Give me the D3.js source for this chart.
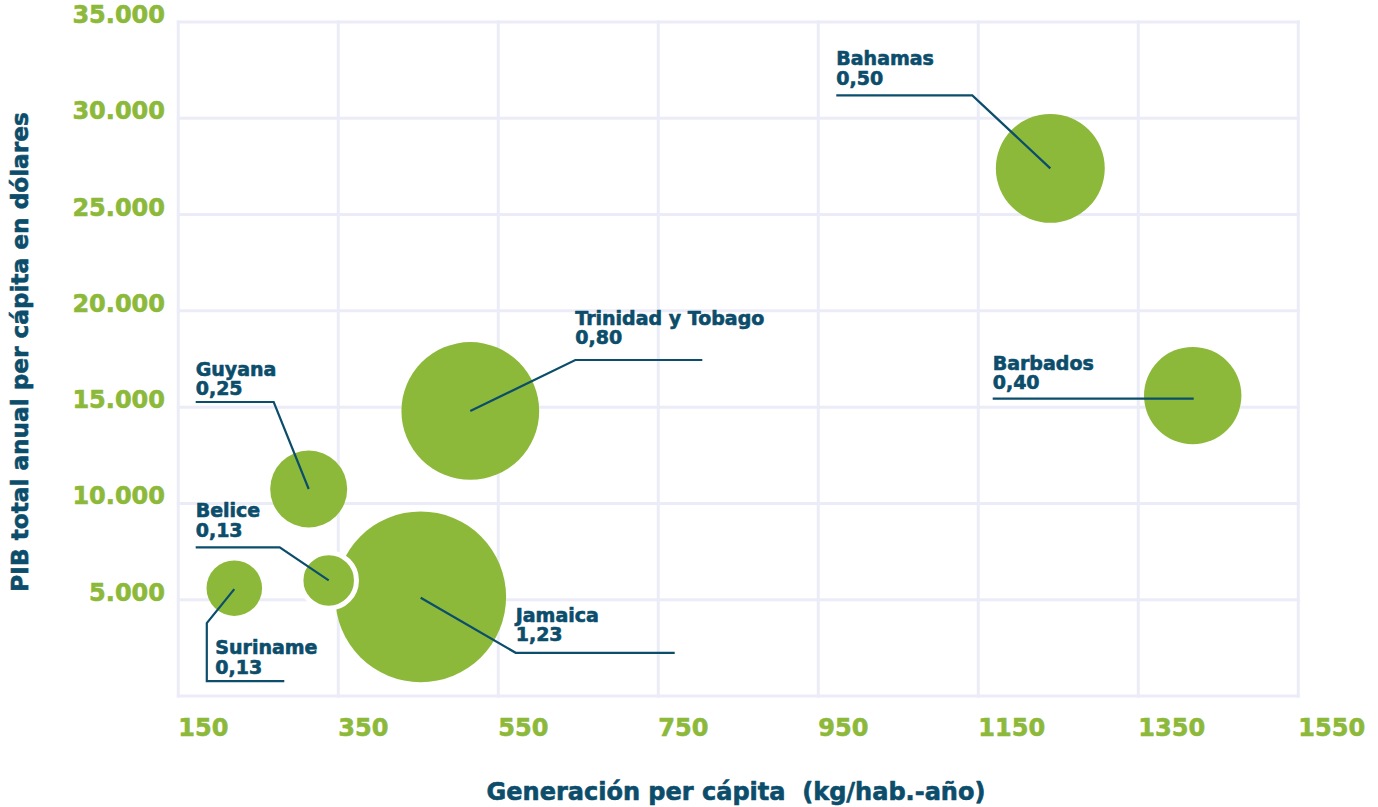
<!DOCTYPE html>
<html lang="es">
<head>
<meta charset="utf-8">
<title>Generación per cápita vs PIB per cápita</title>
<script src="https://cdn.jsdelivr.net/npm/d3@7/dist/d3.min.js"></script>
<style>
  html, body { margin: 0; padding: 0; background: #ffffff; }
  svg { display: block; }
  text { font-family: "DejaVu Sans", sans-serif; font-weight: bold; stroke-width: 0.6px; stroke-linejoin: round; }
</style>
</head>
<body>
<svg id="chart" width="1378" height="807"></svg>
<script>
// Países y valores de cada burbuja
const countries  = ["Bahamas", "Barbados", "Trinidad y Tobago", "Jamaica", "Guyana", "Belice", "Suriname"];
const generation = [1240, 1418, 515, 453, 313, 338, 220];          // kg/hab.-año
const gdp        = [27400, 15600, 14800, 5150, 10750, 6000, 5600]; // dólares per cápita
const values     = [0.50, 0.40, 0.80, 1.23, 0.25, 0.13, 0.13];     // tamaño de la burbuja

// Marcas de los ejes
const xTicks = [150, 350, 550, 750, 950, 1150, 1350, 1550];
const yTicks = [0, 5000, 10000, 15000, 20000, 25000, 30000, 35000];
const yTickLabels = ["", "5.000", "10.000", "15.000", "20.000", "25.000", "30.000", "35.000"];

// Trazado de las líneas guía de cada etiqueta (desplazamientos en px desde el centro)
const callouts = {
  "Bahamas":           { path: [[0, 0], [-78, -73], [-214, -73]],                 text: [-214, -103] },
  "Barbados":          { path: [[1, 3], [-200, 3]],                               text: [-200, -26] },
  "Trinidad y Tobago": { path: [[0, 0], [105, -51], [232, -51]],                  text: [105, -86] },
  "Jamaica":           { path: [[0, 1], [95, 56], [254, 56]],                     text: [95, 25] },
  "Guyana":            { path: [[0, 0], [-35, -87], [-113, -87]],                 text: [-113, -113] },
  "Belice":            { path: [[0, 0], [-49, -33], [-133, -33]],                 text: [-133, -63] },
  "Suriname":          { path: [[0, 1], [-27.5, 35], [-27.5, 93], [50, 93]],      text: [-19, 66] }
};

const GREEN = "#8cb93a";
const NAVY  = "#0b4d6b";
const GRID  = "#ebecf7";

const es = d3.formatLocale({ decimal: ",", thousands: ".", grouping: [3], currency: ["$", ""] });
const fmtValue = es.format(".2f");

const svg = d3.select("#chart");

const x = d3.scaleLinear().domain([150, 1550]).range([178.3, 1298.3]);
const y = d3.scaleLinear().domain([0, 35000]).range([696, 22]);
const r = d3.scaleSqrt().domain([0, 1.23]).range([0, 85.4]);

const data = countries.map((c, i) => ({
  name: c, gen: generation[i], gdp: gdp[i], value: values[i]
}));

// Cuadrícula
const grid = svg.append("g").attr("stroke", GRID).attr("stroke-width", 3).attr("stroke-linecap", "square");
grid.selectAll("line.v").data(xTicks).join("line")
  .attr("class", "v")
  .attr("x1", d => x(d)).attr("x2", d => x(d))
  .attr("y1", y(35000)).attr("y2", y(0));
grid.selectAll("line.h").data(yTicks).join("line")
  .attr("class", "h")
  .attr("y1", d => y(d)).attr("y2", d => y(d))
  .attr("x1", x(150)).attr("x2", x(1550));

// Etiquetas del eje Y
svg.append("g").selectAll("text").data(yTicks).join("text")
  .attr("x", 165)
  .attr("y", d => y(d) + 1)
  .attr("text-anchor", "end")
  .attr("fill", GREEN)
  .attr("stroke", GREEN)
  .attr("font-size", 24)
  .text((d, i) => yTickLabels[i]);

// Etiquetas del eje X
svg.append("g").selectAll("text").data(xTicks).join("text")
  .attr("x", d => x(d))
  .attr("y", 736)
  .attr("text-anchor", "start")
  .attr("fill", GREEN)
  .attr("stroke", GREEN)
  .attr("font-size", 24)
  .text(d => d);

// Títulos de los ejes
svg.append("text")
  .attr("transform", "translate(28,352) rotate(-90)")
  .attr("text-anchor", "middle")
  .attr("fill", NAVY)
  .attr("stroke", NAVY)
  .attr("font-size", 23.2)
  .text("PIB total anual per cápita en dólares");

svg.append("text")
  .attr("x", 736).attr("y", 800)
  .attr("text-anchor", "middle")
  .attr("fill", NAVY)
  .attr("stroke", NAVY)
  .attr("font-size", 24)
  .attr("xml:space", "preserve")
  .style("white-space", "pre")
  .text("Generación per cápita  (kg/hab.-año)");

// Burbujas: las mayores primero; la menor de dos burbujas que se solapan lleva borde blanco
data.forEach(d => { d.cx = x(d.gen); d.cy = y(d.gdp); d.r = r(d.value); });
data.forEach(d => {
  d.halo = data.some(o => o !== d && o.r > d.r &&
    Math.hypot(o.cx - d.cx, o.cy - d.cy) < o.r + d.r);
});
const sorted = data.slice().sort((a, b) => b.r - a.r);

svg.append("g").selectAll("circle").data(sorted).join("circle")
  .attr("cx", d => d.cx)
  .attr("cy", d => d.cy)
  .attr("r", d => d.r)
  .attr("fill", GREEN)
  .attr("stroke", d => d.halo ? "#ffffff" : "none")
  .attr("stroke-width", d => d.halo ? 5 : 0);

// Líneas guía y etiquetas
const line = d3.line();
const ann = svg.append("g");
data.forEach(d => {
  const c = callouts[d.name];
  ann.append("path")
    .attr("d", line(c.path.map(p => [d.cx + p[0], d.cy + p[1]])))
    .attr("fill", "none")
    .attr("stroke", NAVY)
    .attr("stroke-width", 2.2)
    .attr("stroke-linejoin", "miter");
  const t = ann.append("text")
    .attr("x", d.cx + c.text[0])
    .attr("y", d.cy + c.text[1])
    .attr("fill", NAVY)
    .attr("stroke", NAVY)
    .attr("stroke-width", 0.5)
    .attr("font-size", 19);
  t.append("tspan").text(d.name);
  t.append("tspan")
    .attr("x", d.cx + c.text[0])
    .attr("dy", 19.5)
    .text(fmtValue(d.value));
});
</script>
</body>
</html>
